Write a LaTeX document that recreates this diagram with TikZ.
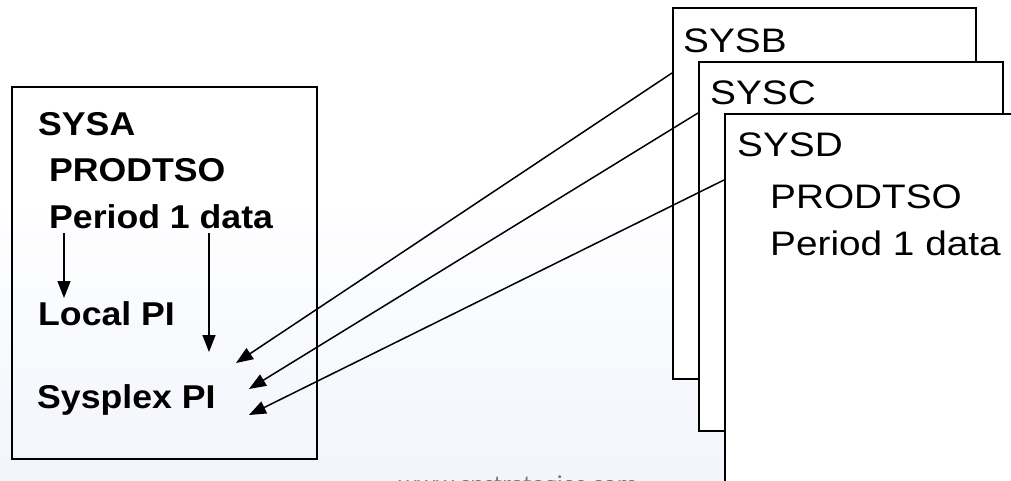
\documentclass[tikz,border=0pt]{standalone}
\usepackage{fontspec}
\setmainfont{Liberation Sans}
\newfontfamily\wmfont{Carlito}
\usetikzlibrary{arrows.meta}
\definecolor{bgbot}{RGB}{232,236,248}
\definecolor{bgmid}{RGB}{246,248,253}
\definecolor{wmgray}{RGB}{120,120,120}
\pgfdeclareverticalshading{bgshade}{100bp}{
  color(0bp)=(bgbot); color(35bp)=(bgmid); color(55bp)=(white); color(100bp)=(white)}
\tikzset{
  sysbox/.style={draw=black, line width=1.8pt, fill=white, anchor=north west, inner sep=0pt},
  leftbox/.style={draw=black, line width=1.8pt, anchor=north west, inner sep=0pt},
  rtxt/.style={anchor=base west, inner sep=0pt, font=\fontsize{34}{40}\selectfont},
  ltxt/.style={anchor=base west, inner sep=0pt, font=\bfseries\fontsize{33}{38}\selectfont},
  conn/.style={line width=1.5pt, -{Triangle[length=17pt,width=13pt]}},
}
\newcommand{\wx}[1]{\scalebox{1.14}[1]{#1}}
\newcommand{\lx}[1]{\scalebox{1.08}[1]{#1}}
\begin{document}
\begin{tikzpicture}[x=1pt,y=-1pt]
\useasboundingbox (0,0) rectangle (1011,481);
\clip (0,0) rectangle (1011,481);
\shade[shading=bgshade] (0,0) rectangle (1011,481);
% watermark
\node[anchor=base, inner sep=0pt, text=wmgray, font=\wmfont\fontsize{22.8}{26}\selectfont] (wm) at (518,491) {\wx{www.cpstrategies.com}};
% left box
\node[leftbox, minimum width=305pt, minimum height=372pt] (boxA) at (11,86) {};
\node[ltxt] (sysa) at (38,136) {\lx{SYSA}};
\node[ltxt] (prodA) at (49,182) {\lx{PRODTSO}};
\node[ltxt] (perA) at (49,228) {\lx{Period 1 data}};
\node[ltxt] (local) at (38,325) {\lx{Local PI}};
\node[ltxt] (sysplex) at (37,408) {\lx{Sysplex PI}};
% right boxes
\node[sysbox, minimum width=303pt, minimum height=371pt] (boxB) at (672,7) {};
\node[rtxt] (sysb) at (683,53) {\wx{SYSB}};
\node[sysbox, minimum width=304pt, minimum height=369pt] (boxC) at (698,61) {};
\node[rtxt] (sysc) at (710,105) {\wx{SYSC}};
\node[sysbox, minimum width=320pt, minimum height=400pt] (boxD) at (724,113) {};
\node[rtxt] (sysd) at (737,157) {\wx{SYSD}};
\node[rtxt] (prodD) at (770,208) {\wx{PRODTSO}};
\node[rtxt] (perD) at (770,255) {\wx{Period 1 data}};
% arrow endpoints
\coordinate (a1s) at (64,233);
\coordinate (a1e) at (64,298);
\coordinate (a2s) at (209,233);
\coordinate (a2e) at (209,352);
\coordinate (bS) at (672,73);
\coordinate (cS) at (698,113);
\coordinate (dS) at (724,180);
\coordinate (bT) at (236,363);
\coordinate (cT) at (249,389);
\coordinate (dT) at (249,415);
\draw[conn] (a1s) -- (a1e);
\draw[conn] (a2s) -- (a2e);
\draw[conn] (bS) -- (bT);
\draw[conn] (cS) -- (cT);
\draw[conn] (dS) -- (dT);
\end{tikzpicture}
\end{document}
